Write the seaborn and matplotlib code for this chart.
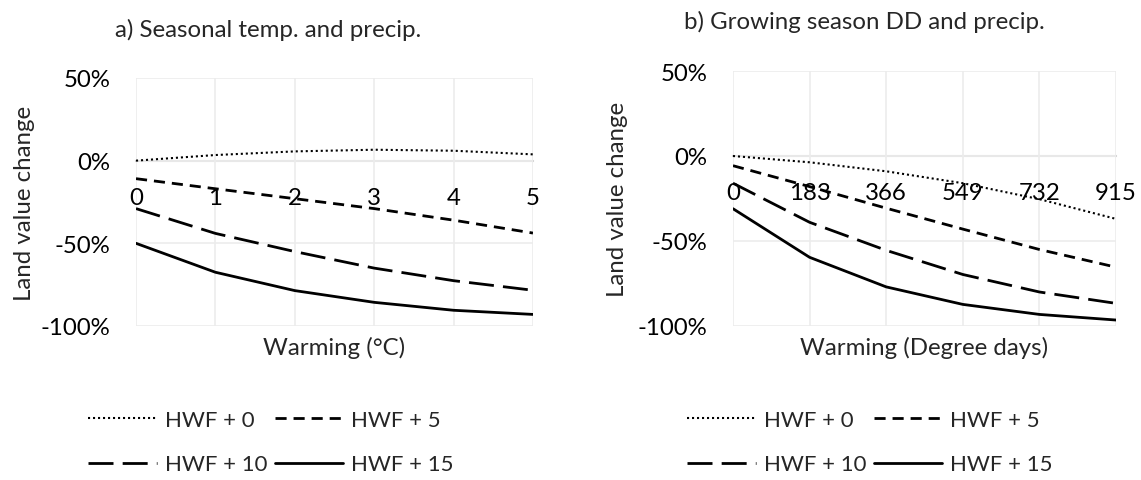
import matplotlib
matplotlib.use("Agg")
import matplotlib.pyplot as plt
import seaborn as sns
import pandas as pd
from matplotlib.ticker import FuncFormatter

# ---- data ----
series_labels = ["HWF + 0", "HWF + 5", "HWF + 10", "HWF + 15"]

warm_c = [0, 1, 2, 3, 4, 5]
a_hwf0 = [0.0, 3.4, 5.6, 6.6, 6.0, 3.8]
a_hwf5 = [-10.9, -17.0, -23.0, -29.0, -36.0, -43.8]
a_hwf10 = [-29.0, -44.0, -55.0, -65.0, -72.6, -78.4]
a_hwf15 = [-50.0, -67.5, -78.6, -85.7, -90.5, -93.0]

warm_dd = [0, 183, 366, 549, 732, 915]
b_hwf0 = [0.0, -3.7, -9.0, -16.0, -25.4, -37.0]
b_hwf5 = [-5.7, -18.0, -30.7, -43.0, -55.0, -65.4]
b_hwf10 = [-16.0, -39.0, -55.5, -69.7, -80.0, -86.7]
b_hwf15 = [-31.0, -59.6, -77.0, -87.3, -93.2, -96.5]

y_ticks = [50, 0, -50, -100]

titles = ["a) Seasonal temp. and precip.", "b) Growing season DD and precip."]
xlabels = ["Warming (\u00b0C)", "Warming (Degree days)"]
ylabel = "Land value change"

# ---- style ----
sns.set_theme(style="white")
plt.rcParams["font.family"] = ["Lato", "DejaVu Sans"]
FS = 17.3
LFS = 16

styles = [
    dict(linestyle=(0, (1, 1.4)), linewidth=1.5),
    dict(linestyle=(0, (4, 2.5)), linewidth=2.0),
    dict(linestyle=(0, (9, 3.3)), linewidth=2.0),
    dict(linestyle="-", linewidth=2.0),
]

fig = plt.figure(figsize=(11.41, 4.81), dpi=100)
ax_a = fig.add_axes([0.1192, 0.3202, 0.3479, 0.5156])
ax_b = fig.add_axes([0.6424, 0.3202, 0.3357, 0.5301])

panels = [
    (ax_a, warm_c, [a_hwf0, a_hwf5, a_hwf10, a_hwf15]),
    (ax_b, warm_dd, [b_hwf0, b_hwf5, b_hwf10, b_hwf15]),
]

grid_c = "#ececec"
zero_c = "#d6d6d6"

for i, (ax, xs, ys) in enumerate(panels):
    for lab, yv, st in zip(series_labels, ys, styles):
        df = pd.DataFrame({"x": xs, "y": yv})
        sns.lineplot(data=df, x="x", y="y", ax=ax, color="black", label=lab, **st)
    hs = list(ax.get_lines()[:4])
    if ax.get_legend() is not None:
        ax.get_legend().remove()

    ax.set_xlim(xs[0], xs[-1])
    ax.set_ylim(-100, 50)
    ax.set_xticks(xs)
    ax.set_xticklabels([str(v) for v in xs])
    ax.set_yticks(y_ticks)
    ax.yaxis.set_major_formatter(FuncFormatter(lambda v, p: f"{int(v)}%"))

    for s in ["top", "right", "left"]:
        ax.spines[s].set_visible(False)
    ax.spines["bottom"].set_position(("data", 0))
    ax.spines["bottom"].set_color(zero_c)
    ax.spines["bottom"].set_linewidth(1.5)
    ax.spines["bottom"].set_zorder(0.5)

    ax.grid(True, color=grid_c, linewidth=1.2, zorder=0)
    ax.set_axisbelow(True)
    ax.tick_params(axis="x", length=0, pad=19, labelsize=FS, colors="black")
    ax.tick_params(axis="y", length=0, pad=18.5, labelsize=FS, colors="black")

    ax.set_xlabel(xlabels[i], fontsize=FS)
    ax.xaxis.set_label_coords(0.5, -0.038)
    ax.set_ylabel(ylabel, fontsize=FS)
    ax.yaxis.set_label_coords(-0.254 if i == 0 else -0.274, 0.5)

    order = [hs[0], hs[2], hs[1], hs[3]]
    labs = [series_labels[0], series_labels[2], series_labels[1], series_labels[3]]
    fig.legend(order, labs, ncol=2, loc="upper left",
               bbox_to_anchor=(88 / 1141 if i == 0 else 687 / 1141, 0.1455),
               frameon=False, fontsize=LFS, handlelength=3.1, handletextpad=0.36,
               columnspacing=0.32, labelspacing=1.1, borderpad=0, borderaxespad=0)

fig.text(268.5 / 1141, 0.9376, titles[0], ha="center", va="center", fontsize=FS)
fig.text(864 / 1141, 0.955, titles[1], ha="center", va="center", fontsize=FS)

fig.savefig("out.png", dpi=100)
